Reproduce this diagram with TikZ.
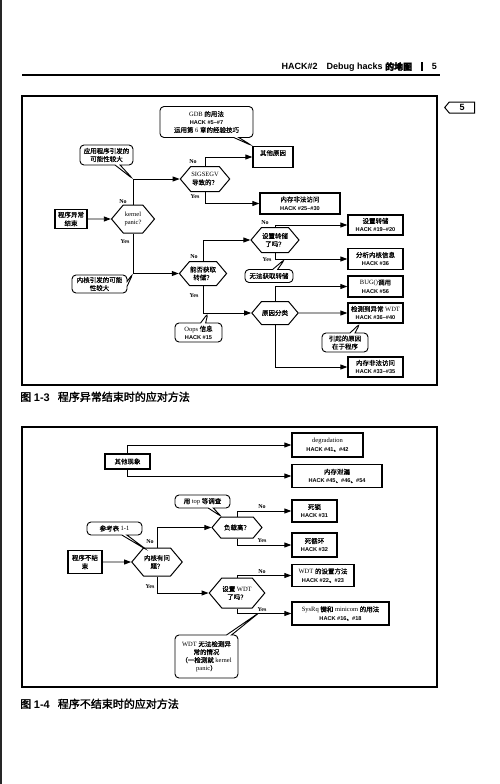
\documentclass[tikz,border=0pt]{standalone}
\usepackage{fontspec}
\setmainfont{Liberation Serif}
\setsansfont{Liberation Sans}
\newfontfamily\cjk[FakeBold=0.6]{Noto Sans CJK SC}
\newfontfamily\cjkb[FakeBold=2]{Noto Sans CJK SC}
\usetikzlibrary{arrows.meta,shapes.symbols,shapes.callouts}
\newcommand{\zh}[1]{{\cjk #1}}
\newcommand{\hk}[1]{{\sffamily\bfseries\fontsize{5.6}{7}\selectfont #1}}

\tikzset{
  box/.style={draw, line width=1.3pt, fill=white, align=center, inner sep=0.5pt,
    font=\fontsize{6.5}{8.5}\selectfont},
  ask/.style={signal, signal to=east and west, signal pointer angle=100, draw,
    line width=1pt, fill=white, align=center, inner sep=0.5pt,
    font=\fontsize{6.5}{8}\selectfont},
  note/.style={rectangle callout, callout pointer width=5pt, draw, rounded corners=4pt,
    line width=0.9pt, fill=white, align=center, inner sep=1pt,
    font=\fontsize{6.5}{8}\selectfont},
  arr/.style={-{Triangle[length=7pt,width=5pt]}, line width=0.9pt},
  yn/.style={font=\bfseries\fontsize{6}{7}\selectfont, inner sep=0pt}
}

\begin{document}
\begin{tikzpicture}[x=1pt, y=-1pt]
    \useasboundingbox (0,0) rectangle (500,784);
    \fill[black!85] (0,0) rectangle (2,784);

    % page head
    \node[anchor=base east, inner sep=0pt] (head) at (437,70)
      {\sffamily\bfseries\fontsize{9}{10}\selectfont HACK\#2\quad Debug hacks {\cjkb 的地图}\quad\rule[-1pt]{1.6pt}{9pt}\quad 5};
    \draw[line width=1.2pt] (22,75) -- (440,75);
    \node[signal, signal to=west, signal pointer angle=100, draw, line width=1pt,
      minimum width=30pt, minimum height=11pt, inner sep=0pt,
      font=\sffamily\bfseries\fontsize{9}{9}\selectfont] (tab) at (462,107.5) {5};

    % figure 1-3
    \draw[line width=1.1pt] (22,96) rectangle (437,385);

    \node[box, minimum width=32pt, minimum height=19pt] (start) at (71,219) {\zh{程序异常}\\\zh{结束}};
    \node[ask, minimum width=43pt, minimum height=28pt] (kp) at (133,219) {kernel\\panic?};
    \node[ask, minimum width=44pt, minimum height=25pt] (sig) at (205,179) {SIGSEGV\\\zh{导致的？}};
    \node[box, minimum width=40pt, minimum height=21pt] (other) at (273,157) {\zh{其他原因}\\\mbox{}};
    \node[box, minimum width=80pt, minimum height=21pt] (mem1) at (300,203.5) {\zh{内存非法访问}\\\hk{HACK \#25--\#30}};
    \node[ask, minimum width=43pt, minimum height=24pt] (dump) at (203,273.5) {\zh{能否获取}\\\zh{转储？}};
    \node[ask, minimum width=44pt, minimum height=25pt] (setd) at (275,240) {\zh{设置转储}\\\zh{了吗？}};
    \node[box, minimum width=55pt, minimum height=20pt] (hk19) at (375.5,225) {\zh{设置转储}\\\hk{HACK \#19--\#20}};
    \node[box, minimum width=55pt, minimum height=21pt] (kmsg) at (375.5,259) {\zh{分析内核信息}\\\hk{HACK \#36}};
    \node[ask, minimum width=44pt, minimum height=23pt] (cause) at (275,313) {\zh{原因分类}};
    \node[box, minimum width=55pt, minimum height=21pt] (bug) at (375.5,286.5) {BUG()\zh{调用}\\\hk{HACK \#56}};
    \node[box, minimum width=55pt, minimum height=20pt] (wdt) at (375.5,313) {\zh{检测到异常} WDT\\\hk{HACK \#36--\#40}};
    \node[box, minimum width=55pt, minimum height=20pt] (mem2) at (375.5,367) {\zh{内存非法访问}\\\hk{HACK \#33--\#35}};

    \draw[arr] (start) -- (kp);
    \draw[arr] (kp.north) |- (sig.west);
    \draw[arr] (kp.south) |- (dump.west);
    \draw[arr] (sig.north) |- (other.west);
    \draw[arr] (sig.south) |- (mem1.west);
    \draw[arr] (dump.north) |- (setd.west);
    \draw[arr] (dump.south) |- (cause.west);
    \draw[arr] (setd.north) |- (hk19.west);
    \draw[arr] (setd.south) |- (kmsg.west);
    \draw[arr] (cause.north) |- (bug.west);
    \draw[arr] (cause) -- (wdt);
    \draw[arr] (cause.south) |- (mem2.west);

    \node[yn] (kpno) at (123,202) {No};
    \node[yn] (kpyes) at (125,242) {Yes};
    \node[yn] (signo) at (193,162) {No};
    \node[yn] (sigyes) at (195,197) {Yes};
    \node[yn] (dumpno) at (194,257) {No};
    \node[yn] (dumpyes) at (194,296) {Yes};
    \node[yn] (setdno) at (265,223) {No};
    \node[yn] (setdyes) at (267,260) {Yes};

    % notes of figure 1-3
    \node[note, minimum width=93pt, minimum height=31pt, callout absolute pointer={(other.north west)}] (gdb) at (206.5,122)
      {GDB \zh{的用法}\\\hk{HACK \#5--\#7}\\\zh{运用第} 6 \zh{章的经验技巧}};
    \node[note, minimum width=53pt, minimum height=20pt, callout absolute pointer={(kp.north |- sig.west)}] (appnote) at (106.5,155)
      {\zh{应用程序引发的}\\\zh{可能性较大}};
    \node[note, minimum width=55pt, minimum height=18pt, callout absolute pointer={(kp.south |- dump.west)}] (kernnote) at (99.5,284)
      {\zh{内核引发的可能}\\\zh{性较大}};
    \node[note, minimum width=47pt, minimum height=19pt, callout absolute pointer={(208,313)}] (oops) at (198.5,332.5)
      {Oops \zh{信息}\\\hk{HACK \#15}};
    \node[note, minimum width=48pt, minimum height=13pt, callout absolute pointer={(285,259)}] (nodump) at (269,276)
      {\zh{无法获取转储}};
    \node[note, minimum width=46pt, minimum height=19pt, callout absolute pointer={(360,323.5)}] (prog) at (345,342.5)
      {\zh{引起的原因}\\\zh{在于程序}};

    \node[anchor=base west, inner sep=0pt, font=\fontsize{11}{12}\selectfont] (cap3) at (20,401)
      {{\cjkb 图} {\sffamily\bfseries 1-3}\hspace{8pt}{\cjkb 程序异常结束时的应对方法}};

    % figure 1-4
    \draw[line width=1.1pt] (22,427) rectangle (437,687);

    \node[box, minimum width=45pt, minimum height=15pt] (oth) at (127.5,461.5) {\zh{其他现象}};
    \node[box, minimum width=71pt, minimum height=24pt] (degr) at (327.5,445) {degradation\\\hk{HACK \#41\zh{、}\#42}};
    \node[box, minimum width=90pt, minimum height=23pt] (leak) at (337,476) {\zh{内存泄漏}\\\hk{HACK \#45\zh{、}\#46\zh{、}\#54}};
    \node[box, minimum width=34pt, minimum height=23pt] (start2) at (85,562) {\zh{程序不结}\\\zh{束}};
    \node[ask, minimum width=50pt, minimum height=28pt] (hq) at (157,562) {\zh{内核有问}\\\zh{题？}};
    \node[ask, minimum width=50pt, minimum height=21pt] (load) at (237,527.5) {\zh{负载高？}};
    \node[box, minimum width=45pt, minimum height=22pt] (dead) at (314.5,511) {\zh{死锁}\\\hk{HACK \#31}};
    \node[box, minimum width=45pt, minimum height=24pt] (loop) at (314.5,545) {\zh{死循环}\\\hk{HACK \#32}};
    \node[ask, minimum width=50pt, minimum height=30pt] (wdtq) at (237,593) {\zh{设置} WDT\\\zh{了吗？}};
    \node[box, minimum width=62pt, minimum height=22pt] (wdtset) at (323,575.5) {WDT \zh{的设置方法}\\\hk{HACK \#22\zh{、}\#23}};
    \node[box, minimum width=97pt, minimum height=23pt] (sysrq) at (340.5,613.5) {SysRq \zh{键和} minicom \zh{的用法}\\\hk{HACK \#16\zh{、}\#18}};

    \draw[arr] (oth.north) |- (degr.west);
    \draw[arr] (oth.south) |- (leak.west);
    \draw[arr] (start2) -- (hq);
    \draw[arr] (hq.north) |- (load.west);
    \draw[arr] (hq.south) |- (wdtq.west);
    \draw[arr] (load.north) |- (dead.west);
    \draw[arr] (load.south) |- (loop.west);
    \draw[arr] (wdtq.north) |- (wdtset.west);
    \draw[arr] (wdtq.south) |- (sysrq.west);

    \node[yn] (hqno) at (150,542) {No};
    \node[yn] (hqyes) at (150,587) {Yes};
    \node[yn] (loadno) at (262,507) {No};
    \node[yn] (loadyes) at (262,541) {Yes};
    \node[yn] (wdtqno) at (262,572) {No};
    \node[yn] (wdtqyes) at (262,610) {Yes};

    % notes of figure 1-4
    \node[note, minimum width=55pt, minimum height=13pt, callout absolute pointer={(222,517)}] (topnote) at (202.5,501.5)
      {\zh{用} top \zh{等调查}};
    \node[note, minimum width=55pt, minimum height=13pt, callout absolute pointer={(147,550)}] (tabnote) at (114.5,528.5)
      {\zh{参考表} 1-1};
    \node[note, minimum width=63pt, minimum height=43pt, callout absolute pointer={(260,612)}] (wdtnote) at (206.5,656.5)
      {WDT \zh{无法检测异}\\\zh{常的情况}\\\zh{（一检测就} kernel\\panic\zh{）}};

    \node[anchor=base west, inner sep=0pt, font=\fontsize{11}{12}\selectfont] (cap4) at (20,708)
      {{\cjkb 图} {\sffamily\bfseries 1-4}\hspace{8pt}{\cjkb 程序不结束时的应对方法}};
\end{tikzpicture}
\end{document}
